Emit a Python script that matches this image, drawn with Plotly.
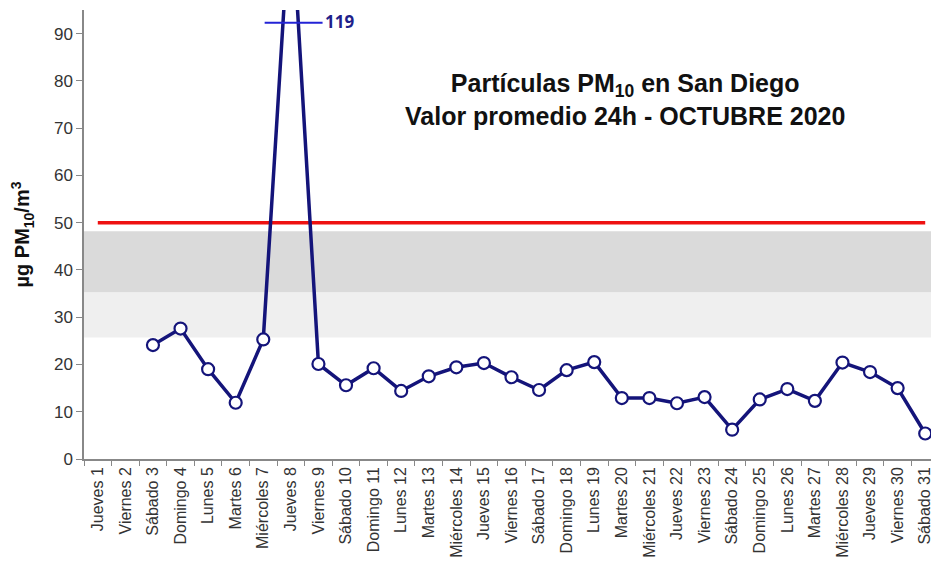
import plotly.graph_objects as go

dias = [
    "Jueves 1", "Viernes 2", "Sábado 3", "Domingo 4", "Lunes 5", "Martes 6",
    "Miércoles 7", "Jueves 8", "Viernes 9", "Sábado 10", "Domingo 11", "Lunes 12",
    "Martes 13", "Miércoles 14", "Jueves 15", "Viernes 16", "Sábado 17", "Domingo 18",
    "Lunes 19", "Martes 20", "Miércoles 21", "Jueves 22", "Viernes 23", "Sábado 24",
    "Domingo 25", "Lunes 26", "Martes 27", "Miércoles 28", "Jueves 29", "Viernes 30",
    "Sábado 31",
]
pm10 = [
    None, None, 24.1, 27.6, 19.0, 11.9, 25.3, 119, 20.1, 15.6, 19.2, 14.4,
    17.5, 19.4, 20.3, 17.3, 14.6, 18.8, 20.5, 12.9, 12.9, 11.8, 13.1, 6.2,
    12.6, 14.8, 12.3, 20.4, 18.4, 15.0, 5.4,
]
norma = [50] * len(dias)
banda_clara = (25.7, 35.3)
banda_oscura = (35.3, 48.2)

FONT = "Liberation Sans, Arial, sans-serif"
AZUL = "#14147a"

fig = go.Figure()

# franjas grises de fondo
fig.add_shape(type="rect", xref="paper", x0=0, x1=1.01, yref="y",
              y0=banda_clara[0], y1=banda_clara[1],
              fillcolor="#efefef", line_width=0, layer="below")
fig.add_shape(type="rect", xref="paper", x0=0, x1=1.01, yref="y",
              y0=banda_oscura[0], y1=banda_oscura[1],
              fillcolor="#dadada", line_width=0, layer="below")

fig.add_trace(go.Scatter(
    x=dias, y=norma, mode="lines",
    line=dict(color="#ee1111", width=3.5),
    hoverinfo="skip", showlegend=False,
))
fig.add_trace(go.Scatter(
    x=dias, y=pm10, mode="lines+markers",
    line=dict(color=AZUL, width=3.5),
    marker=dict(size=12, color="white", line=dict(color=AZUL, width=2.2)),
    connectgaps=False, showlegend=False,
))

# marca del valor fuera de escala
fig.add_shape(type="line", xref="x", yref="y", x0=6.05, x1=8.15, y0=92.3, y1=92.3,
              line=dict(color="#2323d6", width=2), layer="above")
fig.add_annotation(x=8.17, y=1.0, xref="x", yref="paper", text=f"<b>{pm10[7]:.0f}</b>",
                   showarrow=False, xanchor="left", yanchor="top", yshift=2,
                   font=dict(family="Open Sans, sans-serif", size=17, color="#1f1f8a"))

fig.add_annotation(
    x=0.633, y=0.80, xref="paper", yref="paper",
    text="<b>Partículas PM<sub>10</sub> en San Diego</b><br><b>Valor promedio 24h - OCTUBRE 2020</b>",
    showarrow=False, align="center", yanchor="middle",
    font=dict(family=FONT, size=25, color="#111111"),
)

# la página deja 8 px de margen, así que la figura se ajusta a 931x559
fig.update_layout(
    width=931, height=559,
    margin=dict(l=76, r=0, t=2, b=108),
    plot_bgcolor="white", paper_bgcolor="white",
    font=dict(family=FONT, color="#333333"),
)
fig.update_xaxes(
    type="category", range=[-0.5, 30.5], automargin=False,
    showline=True, linecolor="#888888", linewidth=1.5,
    ticks="outside", tickson="boundaries", ticklen=5, tickcolor="#888888",
    tickangle=-90, tickfont=dict(size=16, color="#333333"),
    showgrid=False, zeroline=False,
)
fig.update_yaxes(
    range=[0, 95], tickvals=[0, 10, 20, 30, 40, 50, 60, 70, 80, 90], automargin=False,
    showline=True, linecolor="#888888", linewidth=1.5,
    ticks="outside", ticklen=6, tickcolor="#888888",
    tickfont=dict(size=17, color="#333333"),
    showgrid=False, zeroline=False,
    title=dict(text="<b>µg PM<sub>10</sub>/m<sup>3</sup></b>", font=dict(size=20, color="#111111"), standoff=26),
)

fig.write_html("out.html")
